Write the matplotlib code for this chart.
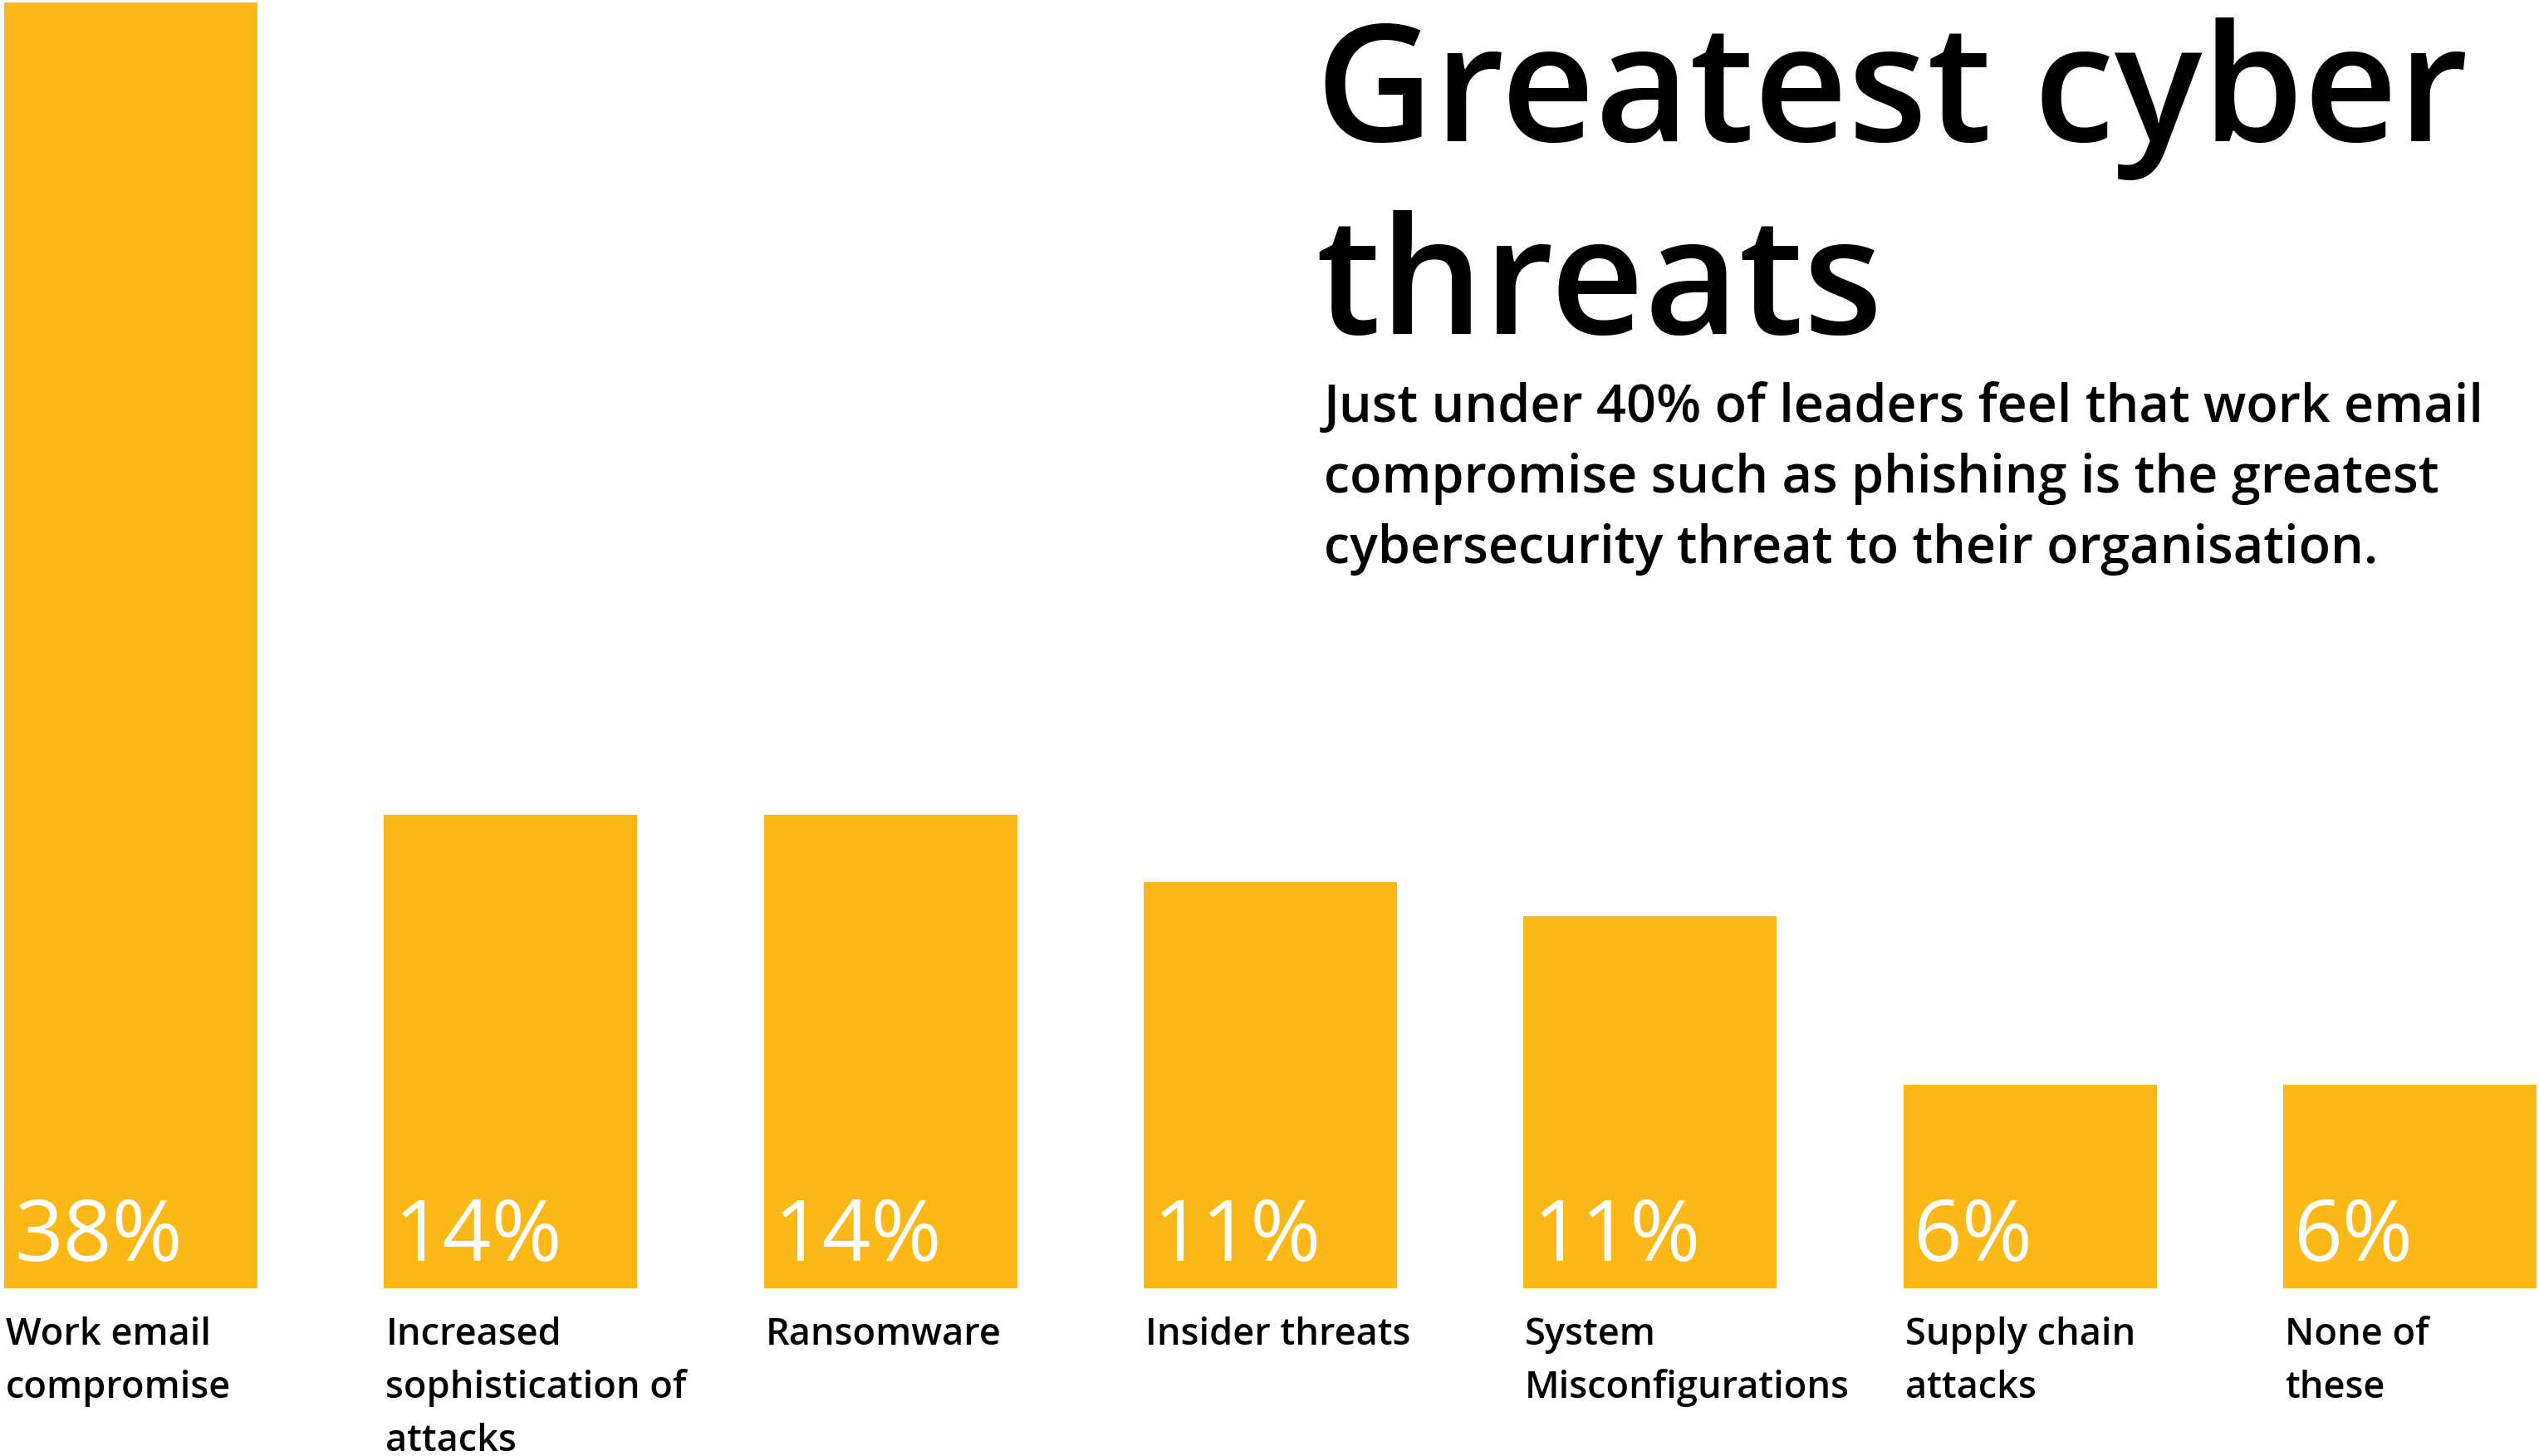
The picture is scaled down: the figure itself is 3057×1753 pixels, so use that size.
import matplotlib
matplotlib.use("Agg")
import matplotlib.pyplot as plt
from matplotlib.transforms import ScaledTranslation

# ---- data ----
categories = [
    "Work email\ncompromise",
    "Increased\nsophistication of\nattacks",
    "Ransomware",
    "Insider threats",
    "System\nMisconfigurations",
    "Supply chain\nattacks",
    "None of\nthese",
]
bar_heights = [38, 14, 14, 12, 11, 6, 6]
value_labels = ["38%", "14%", "14%", "11%", "11%", "6%", "6%"]

title = "Greatest cyber\nthreats"
subtitle = ("Just under 40% of leaders feel that work email\n"
            "compromise such as phishing is the greatest\n"
            "cybersecurity threat to their organisation.")

# ---- style ----
W, H, DPI = 3057, 1753, 100
BAR_COLOR = "#FBB817"
FONT = ["Open Sans", "Noto Sans", "DejaVu Sans"]
plt.rcParams["font.family"] = FONT

fig = plt.figure(figsize=(W / DPI, H / DPI), dpi=DPI)
fig.patch.set_facecolor("white")

step_px = 457.3
bar_w = 305 / step_px
x_left = -bar_w / 2 - 5 / step_px
x_right = x_left + W / step_px
ax_bottom = 202.3 / H
ax_height = 1547.4 / H
ax = fig.add_axes([0, ax_bottom, 1, ax_height])
ax.set_xlim(x_left, x_right)
ax.set_ylim(0, max(bar_heights))
ax.axis("off")

xs = list(range(len(categories)))
ax.bar(xs, bar_heights, width=bar_w, color=BAR_COLOR, linewidth=0)


def px_offset(dx, dy):
    return ax.transData + ScaledTranslation(dx / DPI, dy / DPI, fig.dpi_scale_trans)


for x, lab, cat in zip(xs, value_labels, categories):
    left = x - bar_w / 2
    ax.text(left, 0, lab, transform=px_offset(12, 33), ha="left", va="baseline",
            color="white", fontsize=74, fontweight="normal")
    for k, line in enumerate(cat.split("\n")):
        ax.text(left, 0, line, transform=px_offset(2, -68 - 64 * k),
                ha="left", va="baseline", color="black", fontsize=32.5,
                fontweight="semibold")

# title & subtitle (figure pixel coordinates)
for k, line in enumerate(title.split("\n")):
    fig.text(1584 / W, 1 - (170 + 232 * k) / H, line, ha="left", va="baseline",
             fontsize=141.5, fontweight="semibold", color="black")
for k, line in enumerate(subtitle.split("\n")):
    fig.text(1594 / W, 1 - (508 + 85 * k) / H, line, ha="left", va="baseline",
             fontsize=45.3, fontweight="semibold", color="black")

fig.savefig("out.png", dpi=DPI, facecolor="white")
